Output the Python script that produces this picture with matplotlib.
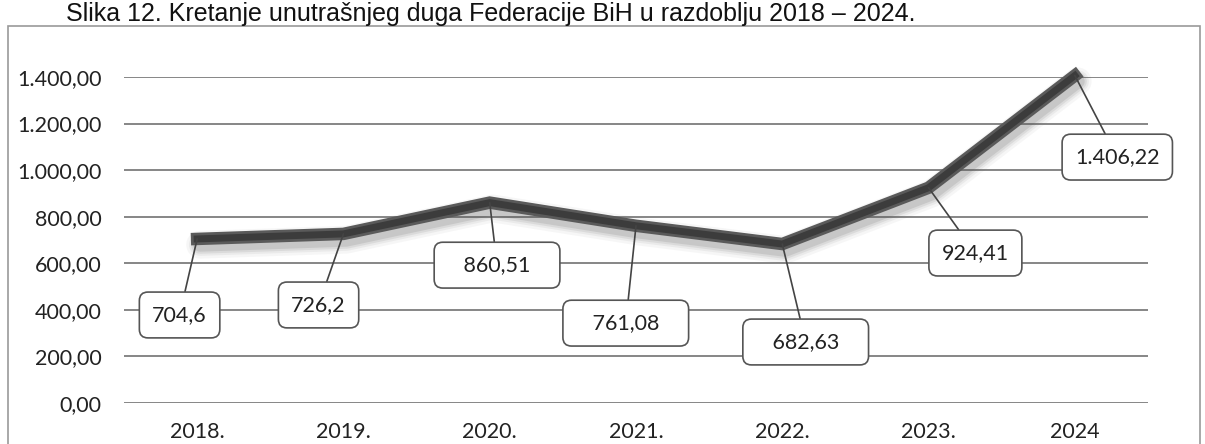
import numpy as np
import matplotlib.pyplot as plt
from matplotlib.patches import Rectangle

# data (internal debt of FBiH, mil. KM)
years = ['2018.', '2019.', '2020.', '2021.', '2022.', '2023.', '2024']
debt = [704.6, 726.2, 860.51, 761.08, 682.63, 924.41, 1406.22]
value_labels = ['704,6', '726,2', '860,51', '761,08', '682,63', '924,41', '1.406,22']
yticks = [0, 200, 400, 600, 800, 1000, 1200, 1400]
ytick_labels = ['0,00', '200,00', '400,00', '600,00', '800,00', '1.000,00', '1.200,00', '1.400,00']

# where the callout boxes sit (data coords) and extra padding of each box
box_x = [-0.12, 0.83, 2.05, 2.93, 4.16, 5.32, 6.29]
box_y = [378, 421, 592, 343, 262, 644, 1056]
box_pad = [0, 0, 3, 3, 3, 0, 0]

plt.rcParams['font.family'] = ['Lato', 'DejaVu Sans']

W, H = 1205, 444
fig = plt.figure(figsize=(W / 100, H / 100), dpi=100)
fig.patch.set_facecolor('white')

# axes placed in pixel terms
left, right, top, bottom = 124, 1148, 77, 403
ax = fig.add_axes([left / W, 1 - bottom / H, (right - left) / W, (bottom - top) / H])

x = np.arange(len(years))

# gridlines
for v in yticks:
    ax.axhline(v, color='#7d7d7d', lw=1.3, zorder=1)

# soft shadow under the line (offset downwards)
for lw, a in [(20, 0.05), (16, 0.07), (13, 0.10), (10, 0.14)]:
    ax.plot(x + 0.02, np.array(debt) - 25, color='#555555', lw=lw, alpha=a,
            solid_joinstyle='round', solid_capstyle='round', zorder=2, clip_on=False)
ax.plot(x, debt, color='#5a5a5a', lw=9, solid_joinstyle='miter', zorder=3, clip_on=False)
ax.plot(x, debt, color='#3c3c3c', lw=5, solid_joinstyle='miter', zorder=3, clip_on=False)

# callout labels
for i in range(len(debt)):
    txt = ' ' * box_pad[i] + value_labels[i] + ' ' * box_pad[i]
    ax.annotate(txt, xy=(x[i], debt[i]), xytext=(box_x[i], box_y[i]),
                ha='center', va='center', fontsize=15.5, color='#222222',
                bbox=dict(boxstyle='round,pad=0.6,rounding_size=0.4', fc='white',
                          ec='#555555', lw=1.2),
                arrowprops=dict(arrowstyle='-', color='#444444', lw=1.2,
                                shrinkA=0, shrinkB=0),
                zorder=5, annotation_clip=False)

ax.set_xlim(-0.5, len(years) - 0.5)
ax.set_ylim(0, 1400)
ax.set_xticks(x)
ax.set_xticklabels(years)
ax.set_yticks(yticks)
ax.set_yticklabels(ytick_labels)
ax.tick_params(length=0, labelsize=15.5, labelcolor='#222222')
ax.tick_params(axis='y', pad=16)
ax.tick_params(axis='x', pad=14)
for s in ax.spines.values():
    s.set_visible(False)
ax.set_facecolor('none')

# chart frame
fig.patches.append(Rectangle((8 / W, -0.05), (1200 - 8) / W, 1.05 - 26 / H,
                             transform=fig.transFigure, fill=False,
                             ec='#9a9a9a', lw=1.2))

# caption above the frame
fig.text(915 / W, 1 - 21 / H,
         'Slika 12. Kretanje unutrašnjeg duga Federacije BiH u razdoblju 2018 – 2024.',
         ha='right', va='baseline', fontsize=18, color='#111111',
         family=['Liberation Sans', 'DejaVu Sans'])

fig.savefig('out.png', dpi=100)
